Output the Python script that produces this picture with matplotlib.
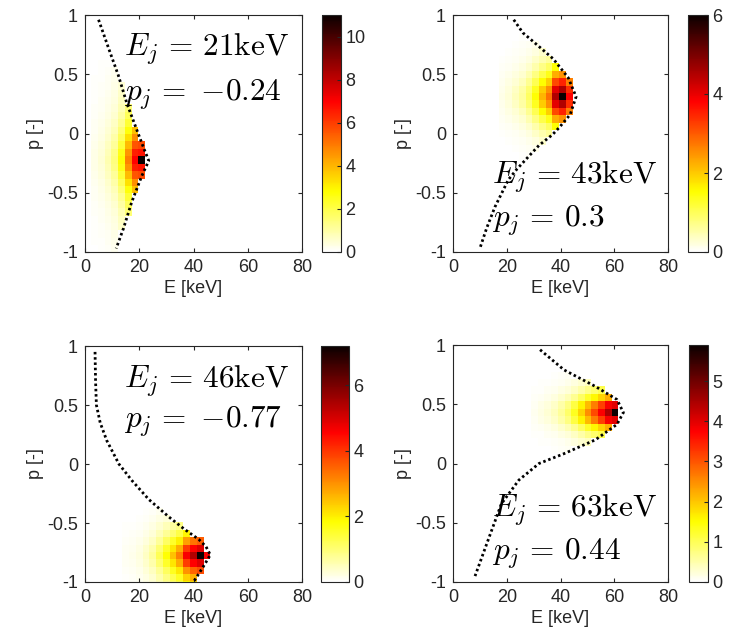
import numpy as np
import matplotlib
matplotlib.use("Agg")
import matplotlib.pyplot as plt

plt.rcParams["font.family"] = ["Liberation Sans", "DejaVu Sans"]
plt.rcParams["mathtext.fontset"] = "cm"

W, H = 731, 641
DE, DP = 2.5, 0.0625   # cell size of the histogram grid

# --- panel 1: E_j = 21 keV, p_j = -0.24
peak_1 = 11.0          # value of the single darkest cell
level_1 = 7.2          # typical value around it
e_start_1 = 2.2
e_prof_1 = [0.04, 0.07, 0.12, 0.2, 0.38, 0.68, 0.97, 1.0]
p_start_1 = -1.005
p_prof_1 = [0.12, 0.15, 0.18, 0.22, 0.26, 0.31, 0.37, 0.45, 0.55, 0.67, 0.8, 0.93,
            1.0,
            0.93, 0.8, 0.67, 0.55, 0.45, 0.37, 0.31, 0.26, 0.22, 0.18, 0.15, 0.12, 0.09]
curve_p_1 = [0.96, 0.7, 0.49, 0.25, 0.0, -0.12, -0.23, -0.36, -0.58, -0.8, -0.97]
curve_e_1 = [5.0, 9.0, 12.3, 15.5, 19.6, 21.6, 23.5, 20.9, 17.2, 14.2, 11.5]
cticks_1 = [0, 2, 4, 6, 8, 10]

# --- panel 2: E_j = 43 keV, p_j = 0.3
peak_2 = 6.0
level_2 = 5.0
e_start_2 = 17.0
e_prof_2 = [0.03, 0.05, 0.08, 0.12, 0.19, 0.3, 0.44, 0.56, 0.9, 1.0, 0.76]
p_start_2 = -0.22
p_prof_2 = [0.05, 0.09, 0.14, 0.22, 0.34, 0.5, 0.7, 0.9,
            1.0,
            0.9, 0.7, 0.5, 0.34, 0.22, 0.14, 0.09, 0.05]
curve_p_2 = [0.96, 0.85, 0.775, 0.63, 0.47, 0.31, 0.16, 0.05, -0.01, -0.1, -0.18,
             -0.3, -0.39, -0.62, -0.8, -0.97]
curve_e_2 = [22.6, 26.0, 29.9, 37.3, 42.9, 45.8, 43.6, 39.5, 37.0, 32.0, 28.7,
             23.8, 20.6, 15.6, 12.5, 10.0]
cticks_2 = [0, 2, 4, 6]

# --- panel 3: E_j = 46 keV, p_j = -0.77
peak_3 = 7.2
level_3 = 5.5
e_start_3 = 13.7
e_prof_3 = [0.02, 0.03, 0.045, 0.08, 0.13, 0.22, 0.33, 0.45, 0.58, 0.84, 0.98, 1.05, 0.84]
p_start_3 = -1.0575
p_prof_3 = [0.4, 0.5, 0.65, 0.85,
            1.0,
            0.85, 0.62, 0.42, 0.28, 0.17, 0.1]
curve_p_3 = [0.95, 0.7, 0.5, 0.35, 0.2, 0.0, -0.14, -0.3, -0.45, -0.55, -0.64,
             -0.7, -0.77, -0.87, -1.0]
curve_e_3 = [3.7, 3.9, 4.2, 5.6, 8.0, 12.5, 17.3, 23.5, 31.0, 36.5, 42.0,
             44.6, 46.2, 43.6, 40.0]
cticks_3 = [0, 2, 4, 6]

# --- panel 4: E_j = 63 keV, p_j = 0.44
peak_4 = 5.9
level_4 = 4.7
e_start_4 = 29.0
e_prof_4 = [0.02, 0.035, 0.055, 0.085, 0.13, 0.19, 0.28, 0.4, 0.53, 0.66, 0.8, 0.95, 1.0]
p_start_4 = 0.0875
p_prof_4 = [0.08, 0.15, 0.28, 0.5, 0.85,
            1.0,
            0.85, 0.5, 0.28, 0.15, 0.08]
curve_p_4 = [0.96, 0.79, 0.65, 0.54, 0.43, 0.33, 0.2, 0.08, 0.0, -0.14, -0.34, -0.65, -0.95]
curve_e_4 = [32.4, 41.3, 53.0, 61.0, 63.4, 61.0, 53.0, 41.0, 32.0, 24.5, 18.0, 13.0, 8.2]
cticks_4 = [0, 1, 2, 3, 4, 5]

labels = [(r"$E_j\,=\,21\mathrm{keV}$", r"$p_j\,=\,\,{-}0.24$"),
          (r"$E_j\,=\,43\mathrm{keV}$", r"$p_j\,=\,0.3$"),
          (r"$E_j\,=\,46\mathrm{keV}$", r"$p_j\,=\,\,{-}0.77$"),
          (r"$E_j\,=\,63\mathrm{keV}$", r"$p_j\,=\,0.44$")]
label_y = [(0.66, 0.28), (-0.42, -0.79), (0.65, 0.31), (-0.45, -0.81)]

# pixel boxes: axes (x0, x1, y0, y1), colorbar (x0, x1)
ax_boxes = [(85, 302, 15, 252), (453, 668, 15, 252), (85, 302, 346, 582), (453, 668, 345, 582)]
cb_boxes = [(322, 341), (688, 708), (321, 349), (689, 708)]

panels = [
    (peak_1, level_1, e_start_1, e_prof_1, p_start_1, p_prof_1, curve_p_1, curve_e_1, cticks_1),
    (peak_2, level_2, e_start_2, e_prof_2, p_start_2, p_prof_2, curve_p_2, curve_e_2, cticks_2),
    (peak_3, level_3, e_start_3, e_prof_3, p_start_3, p_prof_3, curve_p_3, curve_e_3, cticks_3),
    (peak_4, level_4, e_start_4, e_prof_4, p_start_4, p_prof_4, curve_p_4, curve_e_4, cticks_4),
]

AXC = "0.15"
FS = 13


def px_axes(fig, x0, x1, y0, y1):
    return fig.add_axes([x0 / W, 1 - y1 / H, (x1 - x0) / W, (y1 - y0) / H])


fig = plt.figure(figsize=(W / 100, H / 100), dpi=100)

for i, (peak, level, e0, eprof, p0, pprof, cp, ce, cticks) in enumerate(panels):
    x0, x1, y0, y1 = ax_boxes[i]
    ax = px_axes(fig, x0, x1, y0, y1)

    e_edges = e0 + DE * np.arange(len(eprof) + 1)
    p_edges = p0 + DP * np.arange(len(pprof) + 1)
    z = level * np.outer(pprof, eprof)
    z[np.argmax(pprof), np.argmax(eprof)] = peak
    ec = 0.5 * (e_edges[:-1] + e_edges[1:])
    pc = 0.5 * (p_edges[:-1] + p_edges[1:])
    # nothing beyond the kinematic boundary
    lim = np.interp(pc, cp[::-1], ce[::-1])
    z[ec[None, :] > lim[:, None]] = 0

    mesh = ax.pcolormesh(e_edges, p_edges, z, cmap="hot_r", vmin=0, vmax=peak,
                         edgecolors="none")
    ax.plot(ce, cp, color="k", ls=(0, (0.9, 1.0)), lw=2.0)

    ax.set_xlim(0, 80)
    ax.set_ylim(-1, 1)
    ax.set_xticks([0, 20, 40, 60, 80])
    ax.set_yticks([-1, -0.5, 0, 0.5, 1])
    ax.set_yticklabels(["-1", "-0.5", "0", "0.5", "1"])
    ax.tick_params(direction="in", top=True, right=True, labelsize=FS,
                   colors=AXC, length=3, pad=5)
    for s in ax.spines.values():
        s.set_color(AXC)
    ax.set_xlabel("E [keV]", fontsize=FS, color=AXC, labelpad=3)
    ax.set_ylabel("p [-]", fontsize=FS, color=AXC, labelpad=2)

    ya, yb = label_y[i]
    ax.text(14.5, ya, labels[i][0], fontsize=22.5, ha="left", va="baseline")
    ax.text(14.5, yb, labels[i][1], fontsize=22.5, ha="left", va="baseline")

    cx0, cx1 = cb_boxes[i]
    cax = px_axes(fig, cx0, cx1, y0, y1)
    cb = fig.colorbar(mesh, cax=cax, ticks=cticks)
    cb.ax.tick_params(direction="in", labelsize=FS, colors=AXC, length=3, pad=3)
    cb.outline.set_edgecolor(AXC)

fig.savefig("out.png", dpi=100)
